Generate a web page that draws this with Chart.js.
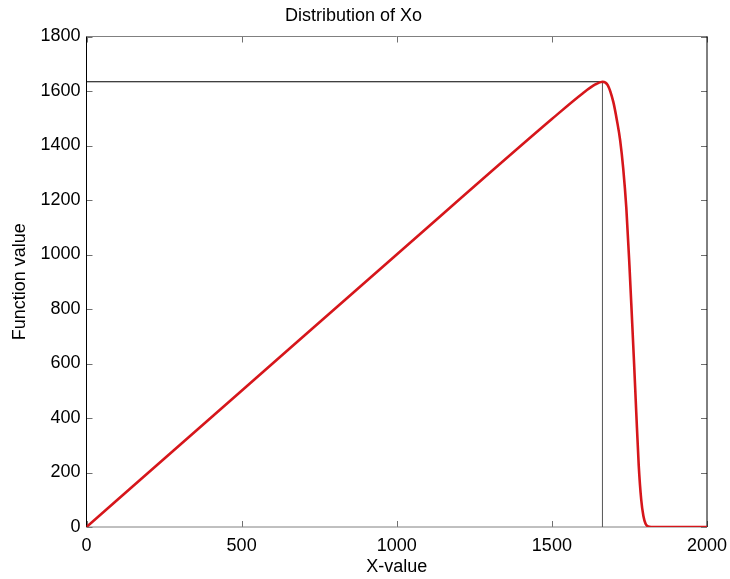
<!DOCTYPE html>
<html>
<head>
<meta charset="utf-8">
<script src="https://cdn.jsdelivr.net/npm/chart.js@4/dist/chart.umd.min.js"></script>
<style>
html,body{margin:0;padding:0;background:#fff;}
#wrap{width:730px;height:579px;}
</style>
</head>
<body>
<div id="wrap"><canvas id="c" width="730" height="579"></canvas></div>
<script>
// Data
const curveX = [0, 500, 1000, 1500, 1600, 1640, 1663, 1680, 1698, 1710, 1720, 1730, 1740, 1750, 1758, 1765, 1772, 1780, 1788, 1795, 1802, 1810, 1820, 2000];
const curveY = [0, 500, 1000, 1497, 1592, 1624, 1634, 1622, 1560, 1490, 1420, 1315, 1170, 960, 770, 600, 420, 225, 100, 40, 12, 2, 0, 0];
const hLineX = [0, 1663];
const hLineY = [1634, 1634];
const vLineX = [1663, 1663];
const vLineY = [0, 1634];
const xTicks = [0, 500, 1000, 1500, 2000];
const yTicks = [0, 200, 400, 600, 800, 1000, 1200, 1400, 1600, 1800];
const titleText = 'Distribution of Xo';
const xLabel = 'X-value';
const yLabel = 'Function value';

const toPts = (xs, ys) => xs.map((x, i) => ({x: x, y: ys[i]}));
const FONT = 'Liberation Sans, Arial, Helvetica, sans-serif';

const boxPlugin = {
  id: 'box',
  beforeDatasetsDraw(chart) {
    const {ctx, chartArea: a, scales} = chart;
    ctx.save();
    ctx.lineWidth = 1;
    const L = 6;
    ctx.strokeStyle = '#707070';
    ctx.beginPath();
    xTicks.forEach(v => {
      const p = Math.round(scales.x.getPixelForValue(v)) + 0.5;
      ctx.moveTo(p, a.bottom); ctx.lineTo(p, a.bottom - L);
      ctx.moveTo(p, a.top); ctx.lineTo(p, a.top + L);
    });
    yTicks.forEach(v => {
      const p = Math.round(scales.y.getPixelForValue(v)) + 0.5;
      ctx.moveTo(a.left, p); ctx.lineTo(a.left + L, p);
      ctx.moveTo(a.right, p); ctx.lineTo(a.right - L, p);
    });
    ctx.stroke();
    ctx.strokeStyle = '#808080';
    ctx.beginPath();
    ctx.moveTo(a.left, a.top); ctx.lineTo(a.right, a.top);
    ctx.moveTo(a.left, a.bottom); ctx.lineTo(a.right, a.bottom);
    ctx.stroke();
    ctx.strokeStyle = '#000';
    ctx.beginPath();
    ctx.moveTo(a.left, a.top); ctx.lineTo(a.left, a.bottom);
    ctx.moveTo(a.right, a.top); ctx.lineTo(a.right, a.bottom);
    ctx.stroke();
    ctx.restore();
  }
};

new Chart(document.getElementById('c'), {
  type: 'scatter',
  data: {
    datasets: [
      {data: toPts(curveX, curveY), showLine: true, borderColor: '#d6161b', borderWidth: 2.6,
       pointRadius: 0, cubicInterpolationMode: 'monotone', fill: false},
      {data: toPts(hLineX, hLineY), showLine: true, borderColor: '#000000', borderWidth: 1.2,
       pointRadius: 0, fill: false},
      {data: toPts(vLineX, vLineY), showLine: true, borderColor: '#555555', borderWidth: 1,
       pointRadius: 0, fill: false}
    ]
  },
  options: {
    responsive: false,
    animation: false,
    layout: {padding: {left: 0, right: 23, top: 0, bottom: 0}},
    plugins: {
      legend: {display: false},
      tooltip: {enabled: false},
      title: {display: true, text: titleText, color: '#000',
              font: {family: FONT, size: 18, weight: 'normal'},
              padding: {top: 5.5, bottom: 9.4}}
    },
    scales: {
      x: {
        type: 'linear', min: 0, max: 2000,
        afterFit(s) { s.height = 52; s.paddingLeft = 0; s.paddingRight = 0; },
        afterBuildTicks(s) { s.ticks = xTicks.map(v => ({value: v})); },
        grid: {display: false, drawTicks: false},
        border: {display: false},
        ticks: {color: '#000', font: {family: FONT, size: 18}, padding: 8, maxRotation: 0,
                callback: v => String(v)},
        title: {display: true, text: xLabel, color: '#000',
                font: {family: FONT, size: 18}, padding: {top: 0, bottom: 1.2}}
      },
      y: {
        type: 'linear', min: 0, max: 1800,
        afterFit(s) { s.width = 86.5; s.paddingTop = 0; s.paddingBottom = 0; },
        afterBuildTicks(s) { s.ticks = yTicks.map(v => ({value: v})); },
        grid: {display: false, drawTicks: false},
        border: {display: false},
        ticks: {color: '#000', font: {family: FONT, size: 18}, padding: 6,
                callback: v => String(v)},
        title: {display: true, text: yLabel, color: '#000',
                font: {family: FONT, size: 18}, padding: {top: 9, bottom: 0}}
      }
    }
  },
  plugins: [boxPlugin]
});
</script>
</body>
</html>
